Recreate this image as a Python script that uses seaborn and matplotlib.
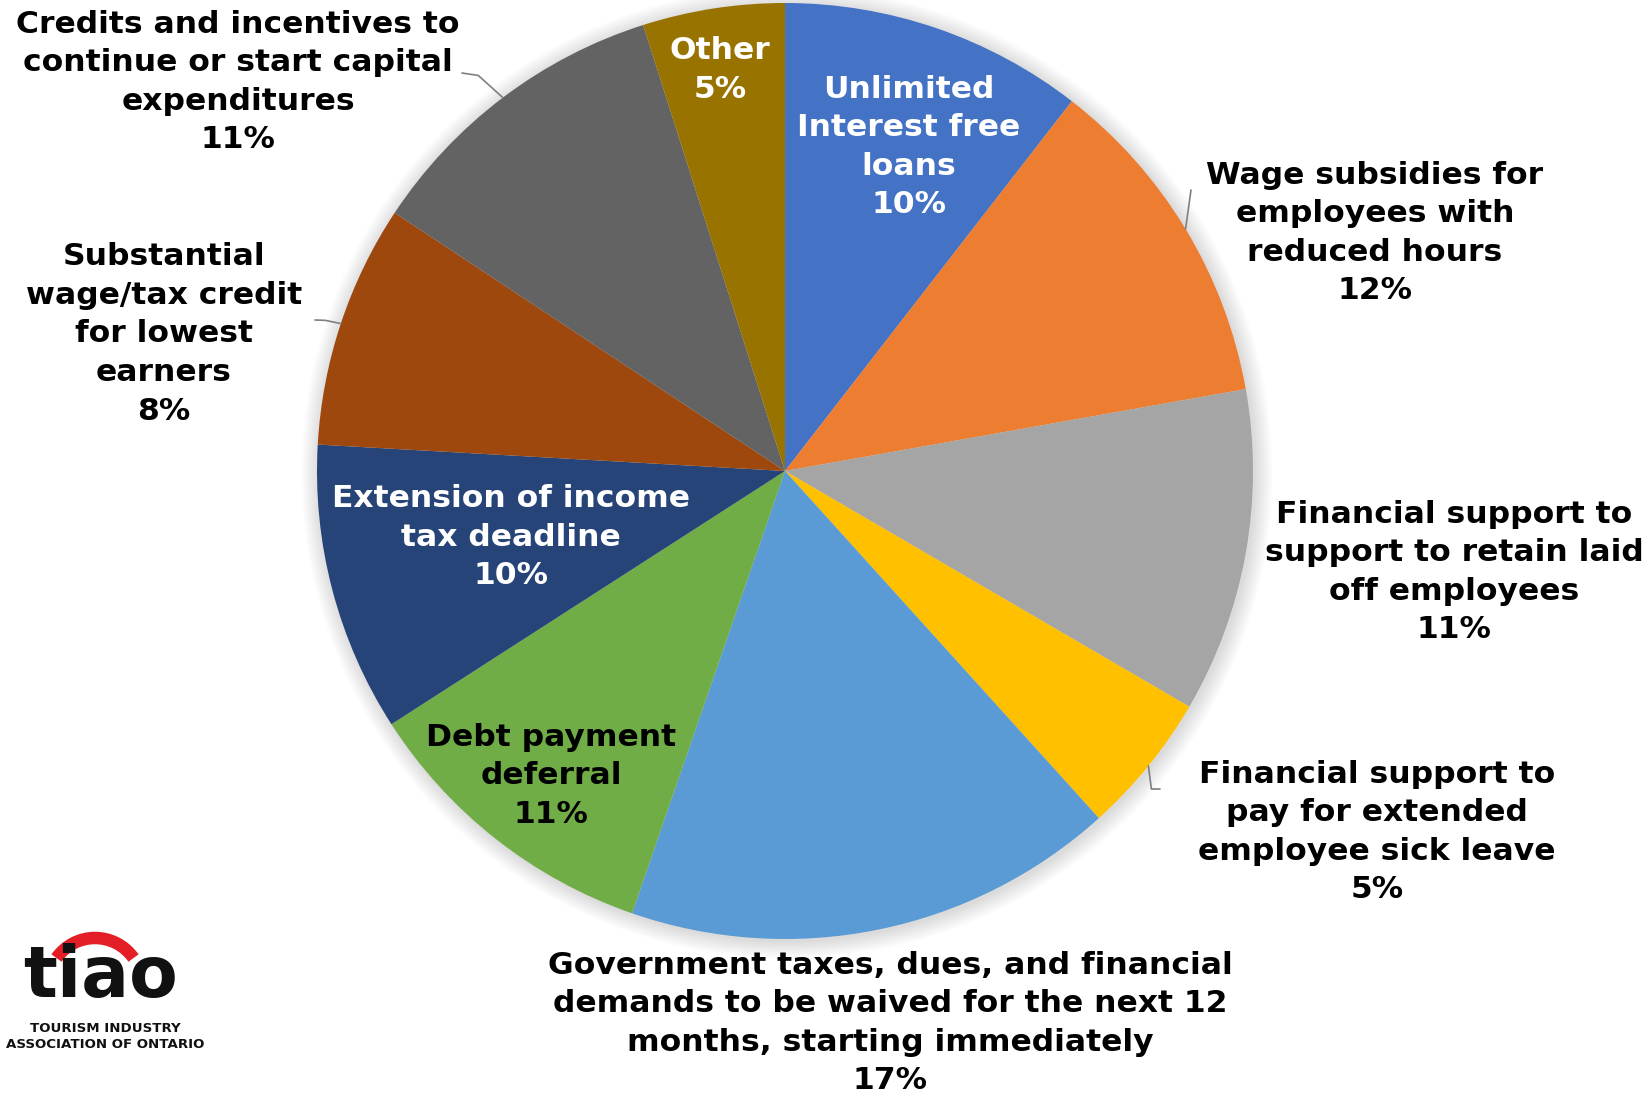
import numpy as np
import matplotlib
matplotlib.use("Agg")
import matplotlib.pyplot as plt
from matplotlib.patches import Arc, Circle
import seaborn as sns

categories = [
    "Unlimited\nInterest free\nloans",
    "Wage subsidies for\nemployees with\nreduced hours",
    "Financial support to\nsupport to retain laid\noff employees",
    "Financial support to\npay for extended\nemployee sick leave",
    "Government taxes, dues, and financial\ndemands to be waived for the next 12\nmonths, starting immediately",
    "Debt payment\ndeferral",
    "Extension of income\ntax deadline",
    "Substantial\nwage/tax credit\nfor lowest\nearners",
    "Credits and incentives to\ncontinue or start capital\nexpenditures",
    "Other",
]
values = [10.5, 11.7, 11.2, 4.9, 17.0, 10.6, 10.0, 8.4, 10.8, 4.9]
colors = ["#4472C4", "#ED7D31", "#A5A5A5", "#FFC000", "#5B9BD5",
          "#70AD47", "#264478", "#9E480E", "#636363", "#997300"]

sns.set_theme(style="white")
plt.rcParams['font.family'] = ['DejaVu Sans']

W, H = 1646, 1097
fig = plt.figure(figsize=(W / 100, H / 100), dpi=100)
ax = fig.add_axes([0, 0, 1, 1])

cx, cy, R = 785, H - 471, 468

# soft shadow
for i in range(12):
    ax.add_patch(Circle((cx + 2, cy - 2), R + 1 + i * 1.5, color="black",
                        alpha=0.012, lw=0, zorder=0))

wedges, _ = ax.pie(values, colors=colors, startangle=90, counterclock=False,
                   radius=R, center=(cx, cy), frame=True,
                   wedgeprops=dict(linewidth=0))
ax.set_xlim(0, W)
ax.set_ylim(0, H)
ax.set_aspect("equal")
ax.axis("off")

# label placement (pixel coords from top-left), text colour, leader end
label_pos = [
    (909, 147, "white", None),
    (1375, 233, "black", (1191, 190)),
    (1454, 572, "black", None),
    (1377, 832, "black", (1160, 789)),
    (890, 1023, "black", None),
    (551, 776, "black", None),
    (511, 537, "white", None),
    (164, 334, "black", (315, 320)),
    (238, 82, "black", (462, 73)),
    (720, 70, "white", None),
]

total = sum(values)
cum = 0.0
for v, lab, (lx, ly, col, lead) in zip(values, categories, label_pos):
    mid = cum + v / 2
    cum += v
    ang = np.deg2rad(90 - mid / total * 360)
    pct = f"{v / total * 100:.0f}%"
    ax.text(lx, H - ly, f"{lab}\n{pct}", ha="center", va="center",
            fontsize=22.6, fontweight="bold", color=col, linespacing=1.42,
            zorder=5)
    if lead is not None:
        ex, ey = cx + R * np.cos(ang), cy + R * np.sin(ang)
        tx, ty = lead[0], H - lead[1]
        if lab.startswith("Financial support to\npay"):
            ax.plot([ex, ex + 3, tx], [ey, ty, ty], color="#7f7f7f", lw=1.2, zorder=1)
        elif lab.startswith("Wage"):
            ax.plot([ex, tx], [ey, ty], color="#7f7f7f", lw=1.2, zorder=1)
        else:
            ax.plot([ex, ex - (ex - tx) * 0.6, tx], [ey, ey + (ty - ey) * 0.9, ty],
                    color="#7f7f7f", lw=1.2, zorder=1)

# logo
ax.add_patch(Arc((95, H - 985), 94, 94, theta1=35, theta2=145,
                 color="#E41E26", lw=9, zorder=3))
ax.text(101, H - 977, "tiao", ha="center", va="center", fontsize=51,
        fontweight="bold", color="#111111", zorder=4)
ax.text(105, H - 1028, "TOURISM INDUSTRY", ha="center", va="center",
        fontsize=9.6, fontweight="bold", color="#111111")
ax.text(105, H - 1045, "ASSOCIATION OF ONTARIO", ha="center", va="center",
        fontsize=9.6, fontweight="bold", color="#111111")

fig.savefig("out.png", dpi=100, facecolor="white")
